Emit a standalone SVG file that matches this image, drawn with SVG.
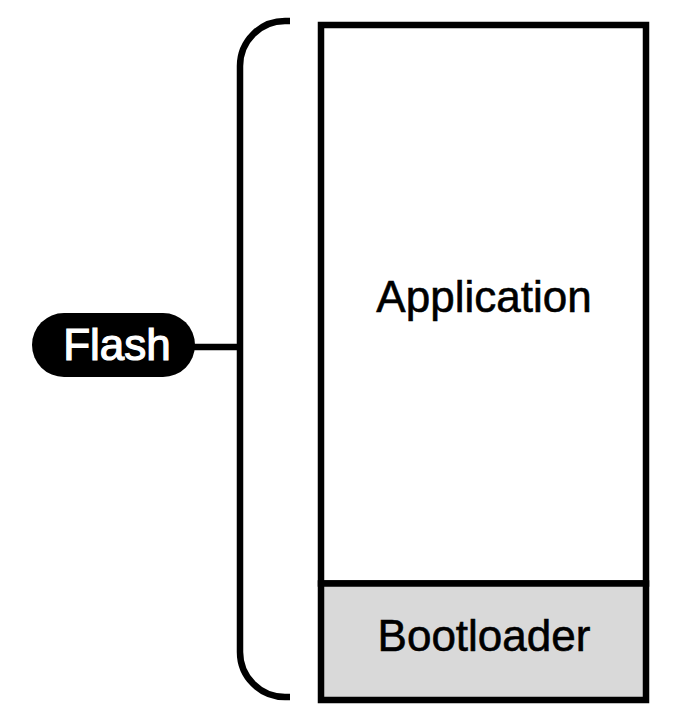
<svg xmlns="http://www.w3.org/2000/svg" width="684" height="726" viewBox="0 0 684 726">
<style>
.ln{fill:none;stroke:#000;stroke-width:6.5}
.t{font-family:"Liberation Sans",Arial,sans-serif;font-size:44px;text-anchor:middle;fill:#000;stroke:#000;stroke-width:0.6}
</style>
<rect width="684" height="726" fill="#fff"/>
<g id="connectors">
<path class="ln" d="M290 21 H285 A45 45 0 0 0 240 66 V652 A45 45 0 0 0 285 697 H290"/>
<line class="ln" x1="190" y1="347" x2="241" y2="347"/>
</g>
<g id="application">
<rect class="ln" x="321" y="25" width="325" height="558.5" fill="#fff"/>
<text class="t" x="484" y="312">Application</text>
</g>
<g id="bootloader">
<rect class="ln" x="321" y="583.5" width="325" height="116.5" style="fill:#d9d9d9"/>
<text class="t" x="484" y="651">Bootloader</text>
</g>
<g id="flash">
<rect x="32" y="313" width="163" height="64" rx="32" fill="#000"/>
<text class="t" x="117" y="359.5" style="fill:#fff;stroke:#fff;stroke-width:1.2">Flash</text>
</g>
</svg>
